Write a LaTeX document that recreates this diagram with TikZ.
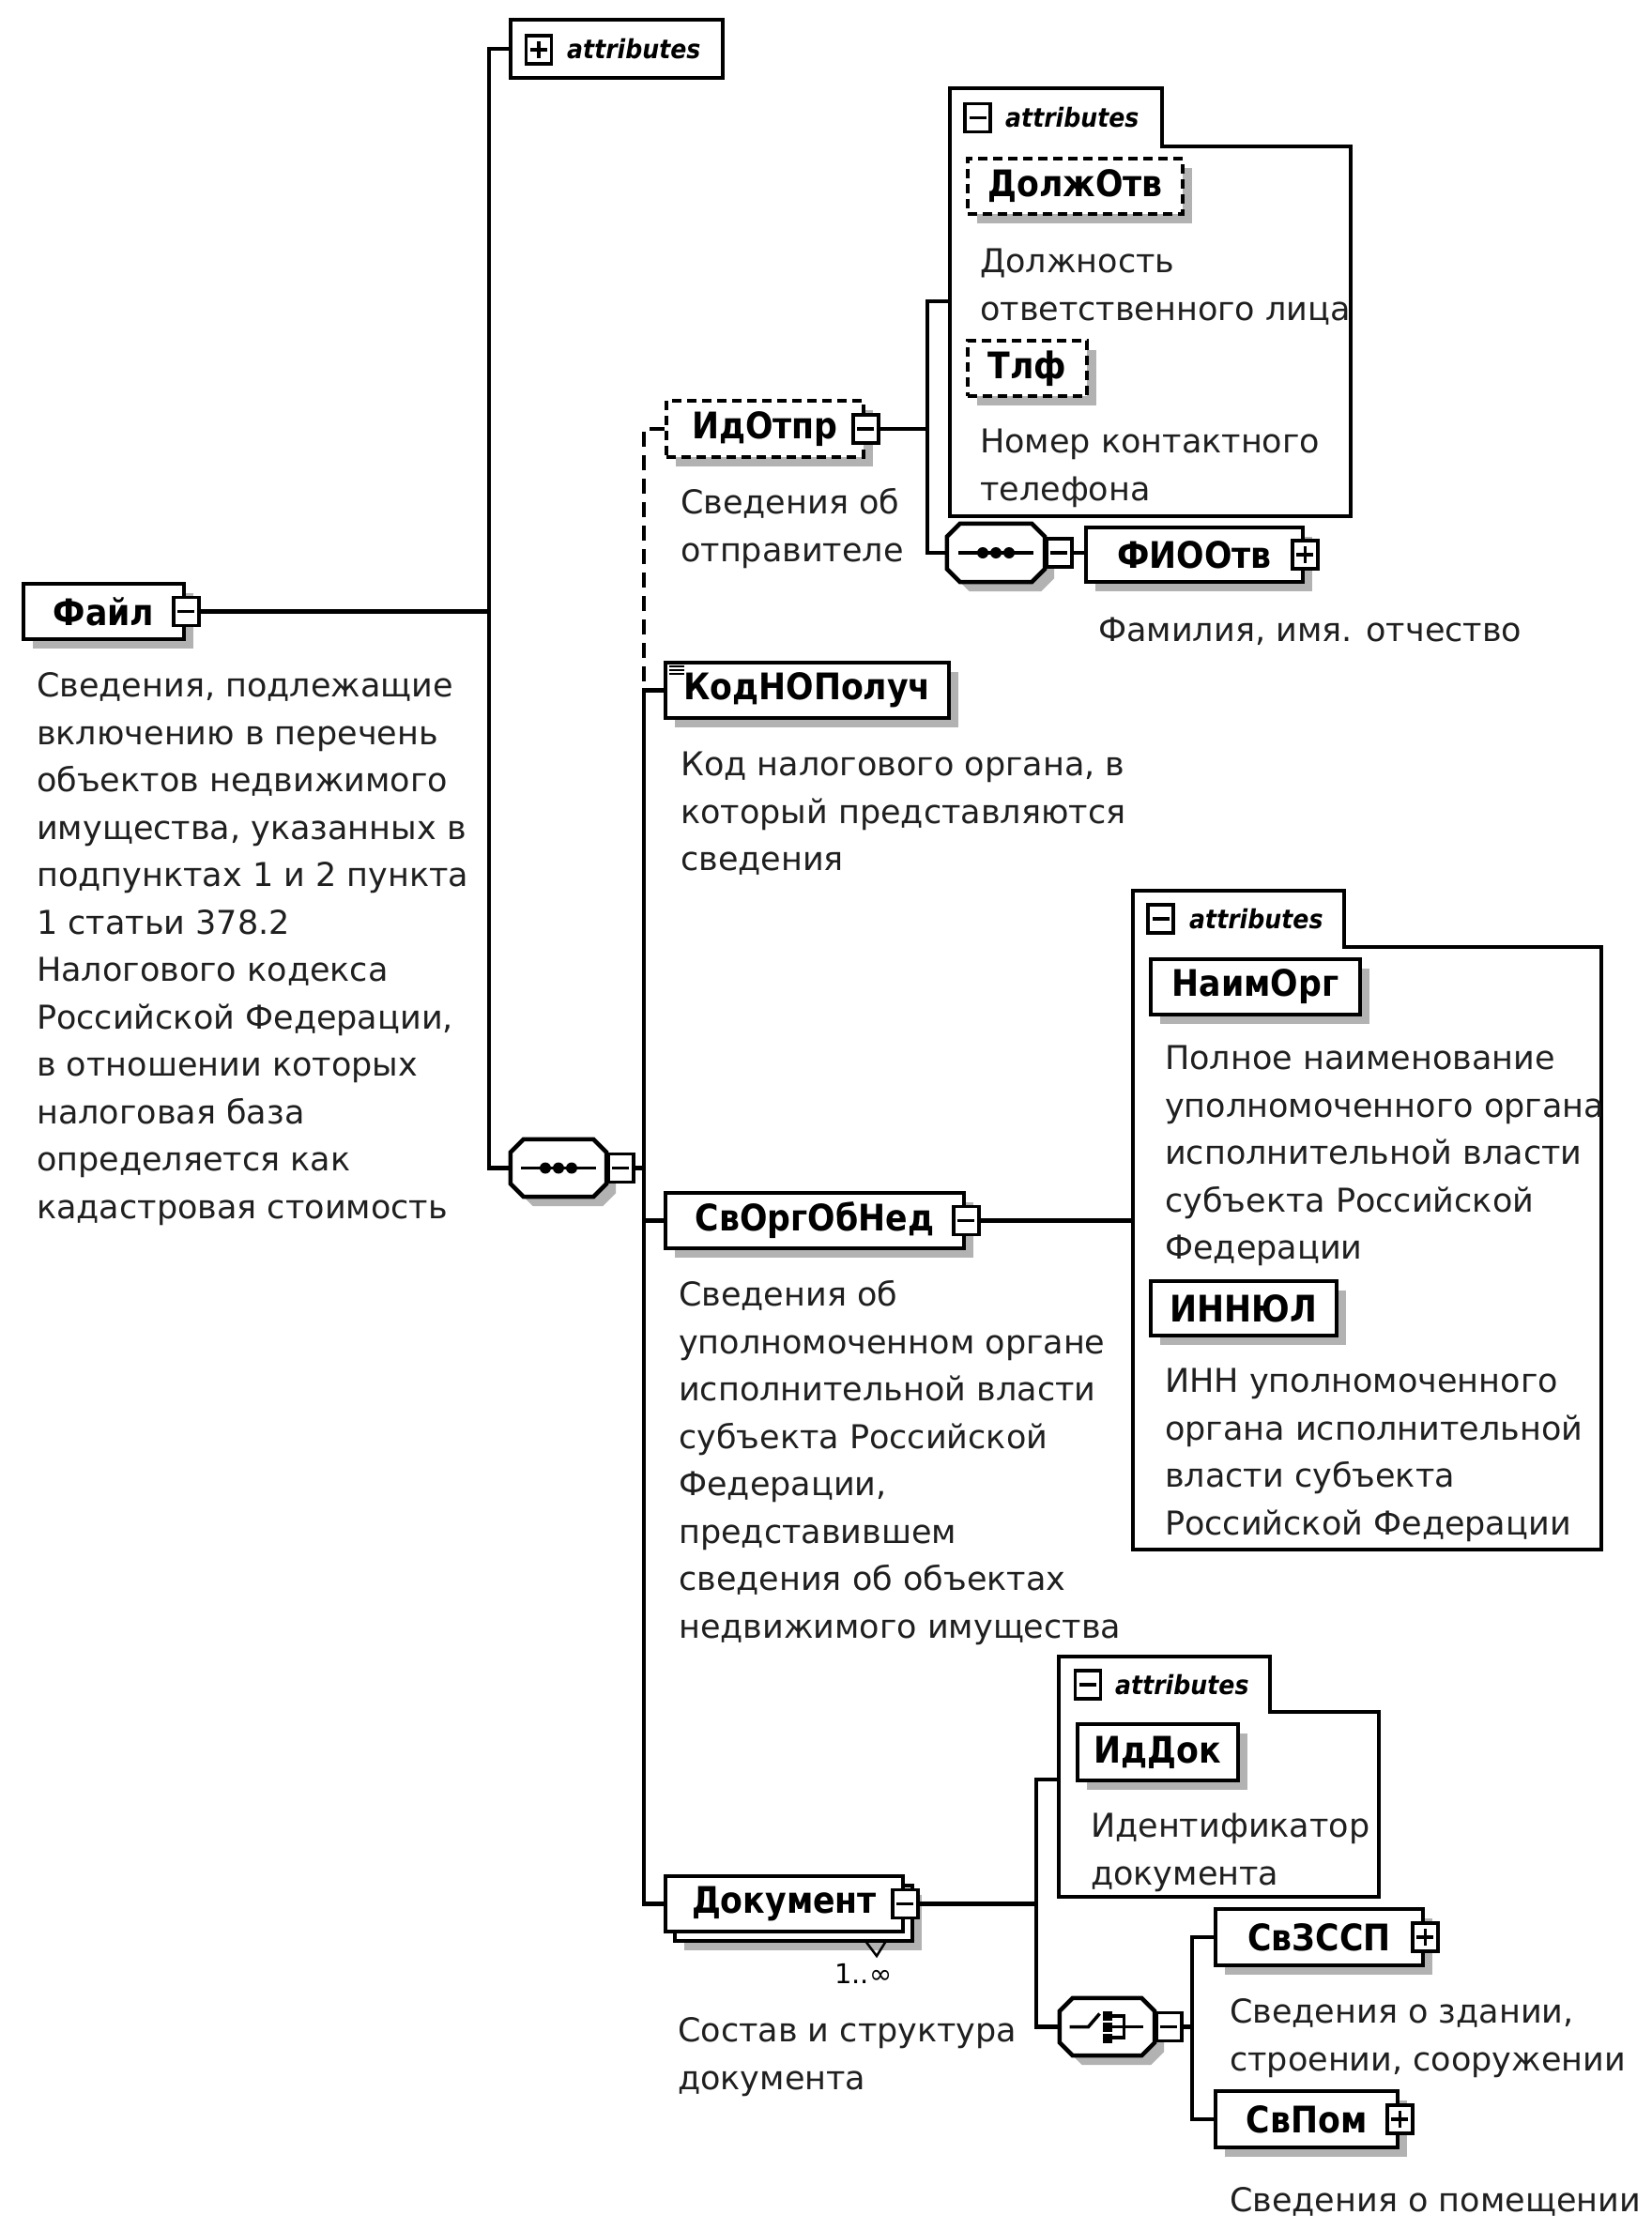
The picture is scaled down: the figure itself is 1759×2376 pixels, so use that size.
\documentclass[tikz,border=0pt]{standalone}
\usepackage{fontspec}
\setmainfont{DejaVu Sans}
\newfontfamily\regfont{DejaVu Sans}
\newfontfamily\namefont[FakeStretch=0.89]{DejaVu Sans}
\newfontfamily\attrfont[FakeStretch=0.9]{DejaVu Sans}
\usetikzlibrary{shadows}
\newcommand{\fl}{\rule{0pt}{28pt}}
\tikzset{
  ln/.style={line width=4.5pt},
  dashln/.style={line width=4.5pt, dash pattern=on 16pt off 9pt},
  shd/.style={general shadow={fill=gray!60, shadow xshift=10pt, shadow yshift=-10pt}},
  elemplain/.style={draw, line width=4.5pt, fill=white, rectangle, inner sep=0pt,
    font=\namefont\bfseries\fontsize{39}{44}\selectfont},
  elem/.style={elemplain, shd},
  opt/.style={elem, dash pattern=on 10pt off 6pt},
  abox/.style={draw, line width=4.5pt, fill=white, rectangle, inner sep=0pt},
  btn/.style={draw, line width=3.5pt, fill=white, rectangle, inner sep=0pt,
    minimum width=27pt, minimum height=30pt},
  sign/.style={line width=3.5pt},
  octn/.style={rectangle, inner sep=0pt},
  panel/.style={draw, line width=4.5pt, fill=white},
  desc/.style={anchor=north west, inner sep=0pt, align=left, text=black!88,
    font=\regfont\fontsize{35}{50.5}\selectfont},
  attrtxt/.style={anchor=west, inner sep=0pt,
    font=\attrfont\bfseries\itshape\fontsize{28}{32}\selectfont},
}
\newcommand{\minusbtn}[3][]{\node[btn,#1] (#2) at (#3) {};
  \draw[sign] ([xshift=-9pt]#2.center) -- ([xshift=9pt]#2.center);}
\newcommand{\plusbtn}[3][]{\minusbtn[#1]{#2}{#3}
  \draw[sign] ([yshift=-9pt]#2.center) -- ([yshift=9pt]#2.center);}
\newcommand{\octshape}[4]{%
  \path[#4] ([xshift={#2+14pt},yshift={#3}]#1.north west)
    -- ([xshift={#2-14pt},yshift={#3}]#1.north east)
    -- ([xshift={#2},yshift={#3-14pt}]#1.north east)
    -- ([xshift={#2},yshift={#3+14pt}]#1.south east)
    -- ([xshift={#2-14pt},yshift={#3}]#1.south east)
    -- ([xshift={#2+14pt},yshift={#3}]#1.south west)
    -- ([xshift={#2},yshift={#3+14pt}]#1.south west)
    -- ([xshift={#2},yshift={#3-14pt}]#1.north west) -- cycle;}
\newcommand{\seqicon}[1]{%
  \draw[line width=3.5pt] ([xshift=-40pt]#1.center) -- ([xshift=40pt]#1.center);
  \foreach \dx in {-14,0,14} \fill ([xshift=\dx*1pt]#1.center) circle[radius=6pt];}
\newcommand{\choiceicon}[1]{%
  \draw[line width=3.5pt] ([xshift=-40pt]#1.center) -- ([xshift=-20pt]#1.center)
    -- ([xshift=-8pt,yshift=14pt]#1.center);
  \foreach \dy in {12,0,-12} \fill ([xshift=-5pt,yshift=\dy*1pt-5pt]#1.center) rectangle ++(10pt,10pt);
  \draw[line width=3.5pt] ([xshift=5pt,yshift=11.5pt]#1.center) -- ([xshift=18pt,yshift=11.5pt]#1.center)
    -- ([xshift=18pt,yshift=-11.5pt]#1.center) -- ([xshift=5pt,yshift=-11.5pt]#1.center);
  \draw[line width=3.5pt] ([xshift=5pt]#1.center) -- ([xshift=38pt]#1.center);}
\begin{document}
\begin{tikzpicture}[x=1pt,y=-1pt]
\useasboundingbox (0,0) rectangle (1759,2376);
\fill[white] (0,0) rectangle (1759,2376);

% bus coordinates
\coordinate (bus1) at (521,0);
\coordinate (bus2) at (686,0);
\coordinate (bus3) at (988,0);
\coordinate (bus4) at (1104,0);
\coordinate (bus5) at (1270,0);
\coordinate (pnl1) at (1012,321);
\coordinate (pnl2) at (1207,1300.5);
\coordinate (pnl3) at (1128,1896);

% attribute panels
\draw[panel] (1012,94) -- (1238,94) -- (1238,156) -- (1439,156) -- (1439,550) -- (1012,550) -- cycle;
\draw[panel] (1207,949) -- (1432,949) -- (1432,1009) -- (1706,1009) -- (1706,1651) -- (1207,1651) -- cycle;
\draw[panel] (1128,1765) -- (1353,1765) -- (1353,1824) -- (1469,1824) -- (1469,2021) -- (1128,2021) -- cycle;

% top collapsed attributes
\node[abox, minimum width=226pt, minimum height=62pt] (attr0) at (657,52) {};
\plusbtn{attr0i}{574,53}
\node[attrtxt] (attr0t) at (604,52) {attributes};

\minusbtn{attr1i}{1041.5,125.5}
\node[attrtxt] (attr1t) at (1071,125) {attributes};
\minusbtn{attr2i}{1236.5,979}
\node[attrtxt] (attr2t) at (1267,979) {attributes};
\minusbtn{attr3i}{1159,1795}
\node[attrtxt] (attr3t) at (1188,1795) {attributes};

% root element
\node[elem, minimum width=171pt, minimum height=59pt] (fayl) at (110.5,651.5) {Файл};
\minusbtn{faylb}{fayl.east}
\node[desc] (faylD) at (39,714.5) {\fl Сведения, подлежащие\\включению в перечень\\объектов недвижимого\\имущества, указанных в\\подпунктах 1 и 2 пункта\\1 статьи 378.2\\Налогового кодекса\\Российской Федерации,\\в отношении которых\\налоговая база\\определяется как\\кадастровая стоимость};

% sequence 1
\node[octn, minimum width=102pt, minimum height=61pt] (seq1) at (595,1244.5) {};
\octshape{seq1}{10pt}{-10pt}{fill=gray!60}
\octshape{seq1}{0pt}{0pt}{draw, line width=4.5pt, fill=white}
\seqicon{seq1}
\minusbtn[anchor=west]{seq1b}{seq1.east}

% IdOtpr
\node[opt, minimum width=210pt, minimum height=60pt] (idotpr) at (815,457) {ИдОтпр};
\minusbtn{idotprb}{idotpr.east}
\node[desc] (idotprD) at (725,519.5) {\fl Сведения об\\отправителе};

\node[opt, minimum width=229pt, minimum height=59pt] (dolzh) at (1145.5,198.5) {ДолжОтв};
\node[desc] (dolzhD) at (1044,262.5) {\fl Должность\\ответственного лица};
\node[opt, minimum width=127pt, minimum height=59pt] (tlf) at (1094.5,392.5) {Тлф};
\node[desc] (tlfD) at (1044,454.5) {\fl Номер контактного\\телефона};

% sequence 2 + FIO
\node[octn, minimum width=104pt, minimum height=62pt] (seq2) at (1061,589) {};
\octshape{seq2}{10pt}{-10pt}{fill=gray!60}
\octshape{seq2}{0pt}{0pt}{draw, line width=4.5pt, fill=white}
\seqicon{seq2}
\minusbtn[anchor=west]{seq2b}{seq2.east}
\node[elem, minimum width=231pt, minimum height=58pt] (fio) at (1272.5,591) {ФИООтв};
\plusbtn{fiob}{fio.east}
\node[desc] (fioD) at (1170,655.5) {\fl Фамилия, имя. отчество};

% KodNOPoluch
\node[elem, minimum width=302pt, minimum height=59pt] (kodno) at (860,735.5) {КодНОПолуч};
\foreach \dy in {6,10,14} \draw[line width=2pt] ([xshift=6pt,yshift=-\dy*1pt]kodno.north west) -- ([xshift=22pt,yshift=-\dy*1pt]kodno.north west);
\node[desc] (kodnoD) at (725,798.5) {\fl Код налогового органа, в\\который представляются\\сведения};

% SvOrgObNed
\node[elem, minimum width=318pt, minimum height=59pt] (svorg) at (868,1300.5) {СвОргОбНед};
\minusbtn{svorgb}{svorg.east}
\node[desc] (svorgD) at (723,1363.5) {\fl Сведения об\\уполномоченном органе\\исполнительной власти\\субъекта Российской\\Федерации,\\представившем\\сведения об объектах\\недвижимого имущества};

\node[elem, minimum width=223pt, minimum height=59pt] (naim) at (1337.5,1051.5) {НаимОрг};
\node[desc] (naimD) at (1241,1111.5) {\fl Полное наименование\\уполномоченного органа\\исполнительной власти\\субъекта Российской\\Федерации};
\node[elem, minimum width=198pt, minimum height=58pt] (innul) at (1325,1394) {ИННЮЛ};
\node[desc] (innD) at (1241,1455.5) {\fl ИНН уполномоченного\\органа исполнительной\\власти субъекта\\Российской Федерации};

% Dokument (multiple)
\fill[gray!60] (729,2019) rectangle (982,2078);
\draw[ln, fill=white] (719,2009) rectangle (972,2068);
\node[elemplain, minimum width=253pt, minimum height=59pt] (dokument) at (835.5,2028.5) {Документ};
\minusbtn{dokumentb}{dokument.east}
\draw[line width=2.5pt] (922,2068) -- (934,2084) -- (944,2068);
\node[anchor=north west, inner sep=0pt, font=\regfont\fontsize{29}{32}\selectfont] (mult) at (889,2090) {\rule{0pt}{23pt}1..∞};
\node[desc] (dokD) at (722,2147.5) {\fl Состав и структура\\документа};

\node[elem, minimum width=171pt, minimum height=60pt] (iddok) at (1233.5,1867) {ИдДок};
\node[desc] (iddokD) at (1162,1929.5) {\fl Идентификатор\\документа};

% choice
\node[octn, minimum width=101pt, minimum height=61pt] (choice) at (1179.5,2159.5) {};
\octshape{choice}{10pt}{-10pt}{fill=gray!60}
\octshape{choice}{0pt}{0pt}{draw, line width=4.5pt, fill=white}
\choiceicon{choice}
\minusbtn[anchor=west]{choiceb}{choice.east}

\node[elem, minimum width=221pt, minimum height=60pt] (svzssp) at (1405.5,2064) {СвЗССП};
\plusbtn{svzsspb}{svzssp.east}
\node[desc] (svzsspD) at (1310,2127.5) {\fl Сведения о здании,\\строении, сооружении};
\node[elem, minimum width=194pt, minimum height=60pt] (svpom) at (1392,2258) {СвПом};
\plusbtn{svpomb}{svpom.east}
\node[desc] (svpomD) at (1310,2328.5) {\fl Сведения о помещении};

% connectors
\draw[ln] (faylb.east) -- (faylb.east -| bus1);
\draw[ln] (attr0.west) -- (attr0.west -| bus1) -- (seq1.west -| bus1) -- (seq1.west);
\draw[ln] (seq1b.east) -- (seq1b.east -| bus2);
\draw[dashln] (idotpr.west) -- (idotpr.west -| bus2) -- (kodno.west -| bus2);
\draw[ln] (kodno.west) -- (kodno.west -| bus2) -- (dokument.west -| bus2) -- (dokument.west);
\draw[ln] (svorg.west -| bus2) -- (svorg.west);
\draw[ln] (idotprb.east) -- (idotprb.east -| bus3);
\draw[ln] (pnl1) -- (pnl1 -| bus3) -- (seq2.west -| bus3) -- (seq2.west);
\draw[ln] (seq2b.east) -- (seq2b.east -| fio.west);
\draw[ln] (svorgb.east) -- (svorgb.east -| pnl2);
\draw[ln] (dokumentb.east) -- (dokumentb.east -| bus4);
\draw[ln] (pnl3) -- (pnl3 -| bus4) -- (choice.west -| bus4) -- (choice.west);
\draw[ln] (choiceb.east) -- (choiceb.east -| bus5);
\draw[ln] (svzssp.west) -- (svzssp.west -| bus5) -- (svpom.west -| bus5) -- (svpom.west);
\end{tikzpicture}
\end{document}
